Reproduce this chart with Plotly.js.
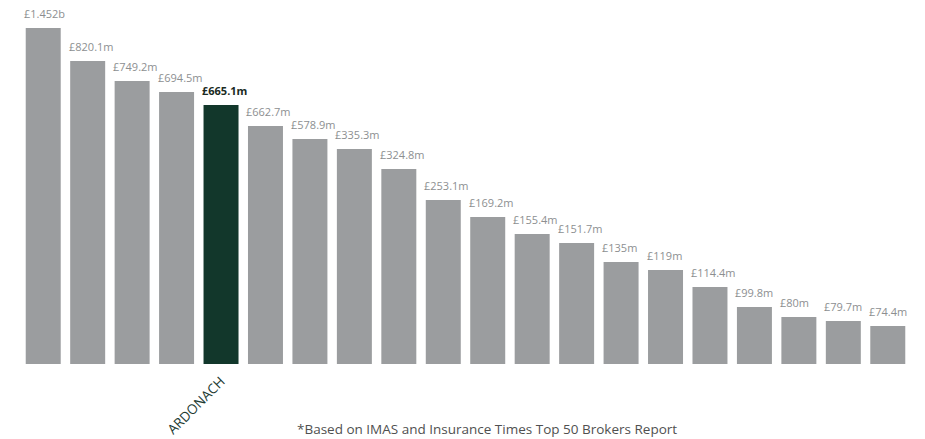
<!DOCTYPE html>
<html>
<head>
<meta charset="utf-8">
<script src="https://cdn.plot.ly/plotly-3.0.1.min.js"></script>
<style>html,body{margin:0;padding:0;background:#fff;}#chart{width:925px;height:439px;}</style>
</head>
<body>
<div id="chart"></div>
<script>
// Bar heights (arbitrary units, bars not drawn to value scale)
var barHeights = [336, 303, 283, 272, 259, 238, 225, 215, 195, 164, 147, 130, 121, 102, 94, 77, 57, 47, 43, 38];
var valueLabels = ["£1.452b","£820.1m","£749.2m","£694.5m","£665.1m","£662.7m","£578.9m","£335.3m","£324.8m","£253.1m","£169.2m","£155.4m","£151.7m","£135m","£119m","£114.4m","£99.8m","£80m","£79.7m","£74.4m"];
var brokerNames = ["","","","","ARDONACH","","","","","","","","","","","","","","",""];
var highlightIndex = 4;
var footnote = "*Based on IMAS and Insurance Times Top 50 Brokers Report";

var xs = barHeights.map(function(_, i){ return i; });
var colors = xs.map(function(i){ return i === highlightIndex ? "#12372b" : "#9b9d9f"; });

var annotations = xs.map(function(i){
  var hl = i === highlightIndex;
  return {
    x: i, y: barHeights[i], xref: "x", yref: "y",
    text: hl ? "<b>" + valueLabels[i] + "</b>" : valueLabels[i],
    showarrow: false, xanchor: "left", yanchor: "bottom",
    xshift: -21, yshift: 5,
    font: {family: "Open Sans, sans-serif", size: 11, color: hl ? "#1a2a22" : "#8d8f91"}
  };
});
annotations.push({
  x: 0.524, y: -0.178, xref: "paper", yref: "paper",
  text: footnote, showarrow: false, xanchor: "center", yanchor: "middle",
  font: {family: "Open Sans, sans-serif", size: 13.5, color: "#505050"}
});

var trace = {
  type: "bar", x: xs, y: barHeights,
  marker: {color: colors},
  hoverinfo: "skip"
};

var layout = {
  width: 925, height: 439,
  margin: {l: 21, r: 15, t: 0, b: 75},
  paper_bgcolor: "#ffffff", plot_bgcolor: "#ffffff",
  bargap: 0.213,
  showlegend: false,
  xaxis: {
    range: [-0.5, 19.5], tickmode: "array", tickvals: xs, ticktext: brokerNames,
    tickangle: -45, showgrid: false, zeroline: false, showline: false, ticks: "",
    ticklabelstandoff: 6,
    tickfont: {family: "Open Sans, sans-serif", size: 13.5, color: "#1d3b33"}
  },
  yaxis: {range: [0, 364], visible: false, showgrid: false, zeroline: false},
  annotations: annotations
};

Plotly.newPlot("chart", [trace], layout, {displayModeBar: false, staticPlot: true});
</script>
</body>
</html>
